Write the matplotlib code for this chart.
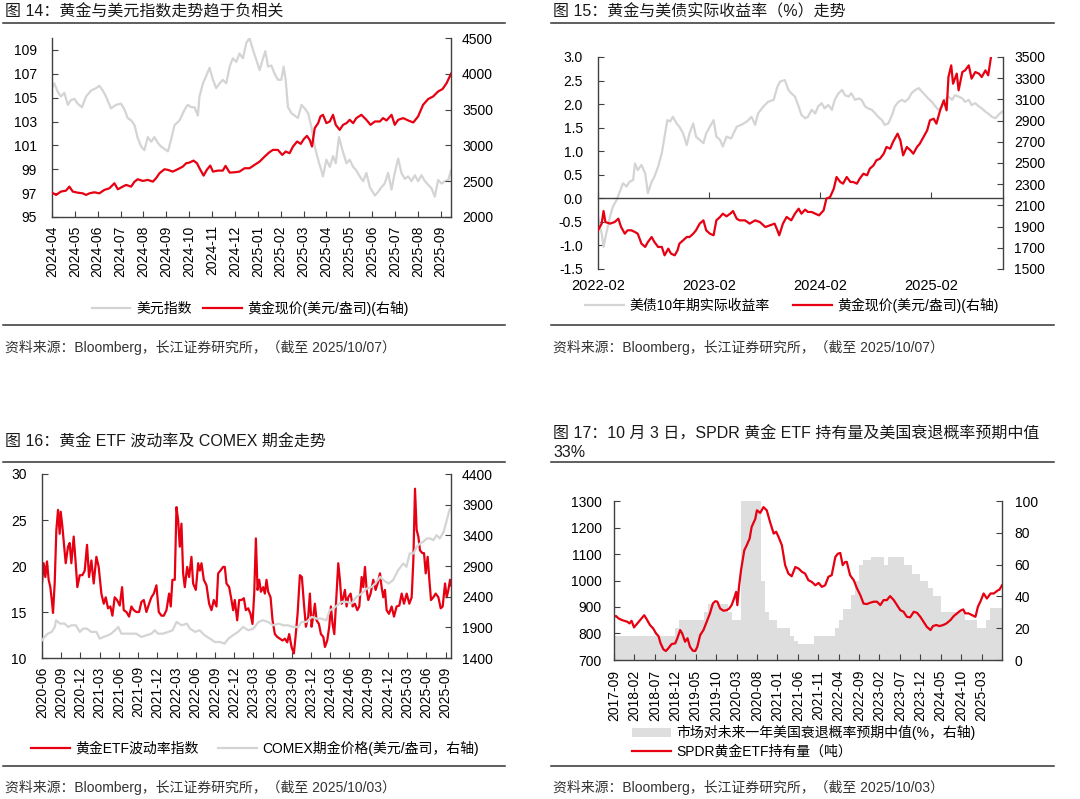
import matplotlib.pyplot as plt
import numpy as np
import pandas as pd
from matplotlib.lines import Line2D
from matplotlib.patches import Patch
from matplotlib.ticker import FormatStrFormatter

plt.rcParams["font.family"] = ["Liberation Sans", "Noto Sans CJK SC"]
plt.rcParams["axes.unicode_minus"] = False

W, H = 1080, 799
RED = "#e60012"
GREY = "#d4d4d4"
AREA = "#dedede"
AXIS = "#404040"

# ---------------- fig 14: dollar index vs gold (months since 2024-04) ----------------
dxy_t = [0.00, 0.10, 0.25, 0.39, 0.54, 0.69, 0.83, 0.98, 1.12, 1.31,
         1.49, 1.71, 1.93, 2.07, 2.22, 2.36, 2.58, 2.80, 3.02, 3.17,
         3.31, 3.46, 3.61, 3.75, 3.90, 4.04, 4.19, 4.34, 4.48, 4.63,
         4.77, 4.92, 5.07, 5.21, 5.36, 5.58, 5.80, 5.94, 6.09, 6.23,
         6.38, 6.45, 6.60, 6.74, 6.89, 7.04, 7.18, 7.33, 7.47, 7.62,
         7.77, 7.91, 8.06, 8.20, 8.35, 8.50, 8.64, 8.79, 8.93, 9.08,
         9.23, 9.33, 9.45, 9.59, 9.74, 9.88, 10.03, 10.13, 10.22, 10.32,
         10.47, 10.61, 10.76, 10.91, 11.05, 11.20, 11.34, 11.49, 11.64, 11.78,
         11.85, 12.00, 12.15, 12.29, 12.41, 12.55, 12.70, 12.88, 13.02, 13.17,
         13.31, 13.46, 13.61, 13.75, 13.90, 14.12, 14.26, 14.41, 14.55, 14.70,
         14.85, 14.99, 15.14, 15.28, 15.43, 15.58, 15.72, 15.87, 16.01, 16.16,
         16.31, 16.45, 16.60, 16.74, 16.89, 17.04, 17.18, 17.33, 17.45]
dxy = [105.8, 106.2, 105.5, 105.1, 105.4, 104.4, 104.8, 104.9, 104.5, 104.2,
       105.1, 105.6, 105.8, 106.0, 105.6, 105.1, 104.1, 104.4, 104.5, 104.0,
       103.3, 103.1, 102.7, 101.6, 100.9, 100.6, 101.7, 101.3, 101.7, 101.2,
       100.9, 100.7, 100.5, 101.5, 102.7, 103.1, 104.0, 104.4, 104.2, 104.2,
       103.5, 105.1, 106.2, 106.8, 107.5, 106.5, 105.8, 106.2, 106.5, 106.2,
       107.6, 108.3, 108.0, 108.7, 108.3, 109.6, 110.0, 109.0, 108.2, 107.3,
       108.3, 108.9, 107.6, 107.7, 107.0, 106.5, 106.5, 107.6, 106.5, 104.2,
       103.7, 103.5, 103.3, 104.4, 104.1, 103.7, 102.6, 100.9, 99.8, 98.9,
       98.4, 99.8, 99.2, 100.1, 99.5, 101.7, 100.6, 99.5, 99.8, 99.2,
       98.9, 98.4, 98.0, 98.7, 97.5, 96.8, 97.1, 97.5, 97.8, 98.7,
       97.3, 98.7, 99.9, 98.7, 98.2, 98.4, 98.0, 98.5, 98.0, 98.5,
       98.0, 97.7, 97.4, 96.7, 98.1, 97.8, 98.0, 98.1, 98.9]
gold14_t = [0.00, 0.18, 0.39, 0.61, 0.76, 0.91, 1.12, 1.34, 1.49, 1.64,
            1.85, 2.07, 2.29, 2.51, 2.73, 2.88, 3.09, 3.24, 3.46, 3.61,
            3.75, 3.97, 4.19, 4.41, 4.55, 4.70, 4.92, 5.07, 5.28, 5.50,
            5.72, 5.87, 6.01, 6.19, 6.34, 6.45, 6.63, 6.77, 6.92, 7.04,
            7.26, 7.47, 7.59, 7.77, 7.99, 8.20, 8.42, 8.64, 8.86, 9.08,
            9.30, 9.49, 9.66, 9.88, 10.07, 10.22, 10.39, 10.54, 10.72, 10.88,
            11.01, 11.15, 11.27, 11.37, 11.49, 11.64, 11.74, 11.85, 12.00, 12.15,
            12.29, 12.41, 12.58, 12.73, 12.88, 13.02, 13.17, 13.31, 13.53, 13.75,
            13.93, 14.12, 14.34, 14.48, 14.63, 14.85, 14.99, 15.14, 15.36, 15.58,
            15.80, 16.01, 16.23, 16.45, 16.67, 16.89, 17.08, 17.26, 17.45]
gold14 = [2340, 2308, 2355, 2368, 2424, 2355, 2340, 2331, 2308, 2331,
          2345, 2331, 2378, 2401, 2471, 2387, 2424, 2448, 2424, 2494,
          2527, 2504, 2518, 2494, 2541, 2611, 2667, 2658, 2634, 2667,
          2704, 2751, 2760, 2788, 2751, 2681, 2578, 2658, 2718, 2634,
          2648, 2648, 2714, 2620, 2625, 2634, 2681, 2681, 2728, 2774,
          2844, 2900, 2937, 2937, 2867, 2914, 2891, 2984, 3054, 3021,
          3087, 3133, 3077, 2984, 3241, 3311, 3404, 3427, 3311, 3334,
          3427, 3287, 3217, 3287, 3311, 3357, 3311, 3381, 3427, 3357,
          3287, 3334, 3334, 3381, 3348, 3427, 3287, 3357, 3381, 3348,
          3320, 3404, 3567, 3647, 3684, 3754, 3787, 3871, 4000]
p14_labels = pd.period_range("2024-04", "2025-09", freq="M").strftime("%Y-%m")

# ---------------- fig 15: real yield vs gold (months since 2022-02) ----------------
ry_t = [0.0, 0.2, 0.4, 0.6, 0.9, 1.3, 1.6, 2.0, 2.3, 2.7,
        3.1, 3.4, 3.8, 4.0, 4.3, 4.7, 5.1, 5.4, 5.8, 6.1,
        6.5, 6.9, 7.2, 7.5, 7.8, 8.1, 8.5, 8.8, 9.2, 9.6,
        9.9, 10.3, 10.6, 11.0, 11.4, 11.7, 12.1, 12.5, 12.8, 13.2,
        13.5, 13.9, 14.4, 15.0, 15.5, 16.1, 16.6, 17.0, 17.3, 17.9,
        18.4, 19.0, 19.4, 19.7, 20.2, 20.6, 20.9, 21.3, 21.7, 22.0,
        22.4, 22.7, 23.1, 23.5, 23.8, 24.2, 24.5, 24.9, 25.3, 25.6,
        26.0, 26.4, 26.7, 27.1, 27.4, 27.8, 28.2, 28.5, 28.9, 29.2,
        29.6, 30.0, 30.3, 30.7, 31.0, 31.4, 31.8, 32.1, 32.5, 32.9,
        33.2, 33.6, 33.9, 34.3, 34.7, 35.0, 35.4, 35.7, 36.1, 36.5,
        36.8, 37.2, 37.5, 37.9, 38.3, 38.6, 39.0, 39.4, 39.7, 40.1,
        40.4, 40.8, 41.2, 41.5, 41.9, 42.2, 42.6, 43.0, 43.3, 43.7]
real_yield = [-0.39, -0.60, -0.74, -1.03, -0.74, -0.39, -0.18, -0.04, 0.11, 0.32,
              0.25, 0.35, 0.39, 0.74, 0.60, 0.71, 0.53, 0.11, 0.35, 0.46,
              0.67, 0.96, 1.31, 1.66, 1.63, 1.73, 1.59, 1.52, 1.38, 1.13,
              1.38, 1.59, 1.31, 1.24, 1.17, 1.38, 1.52, 1.66, 1.31, 1.24,
              1.10, 1.31, 1.27, 1.52, 1.56, 1.63, 1.73, 1.56, 1.80, 1.95,
              2.05, 2.09, 2.37, 2.48, 2.51, 2.30, 2.23, 2.16, 1.95, 1.77,
              1.70, 1.73, 1.88, 1.80, 1.95, 2.02, 1.91, 1.98, 1.88, 2.09,
              2.23, 2.30, 2.19, 2.16, 2.23, 2.09, 2.12, 2.09, 1.95, 1.91,
              1.88, 1.80, 1.73, 1.66, 1.56, 1.59, 1.77, 1.95, 2.05, 2.09,
              2.05, 2.12, 2.23, 2.30, 2.34, 2.27, 2.19, 2.12, 2.05, 1.95,
              1.88, 1.95, 2.09, 2.16, 2.09, 2.19, 2.16, 2.12, 2.05, 2.09,
              1.98, 2.02, 1.95, 1.91, 1.84, 1.80, 1.73, 1.70, 1.77, 1.84]
gold15_t = [0.0, 0.4, 0.6, 0.8, 1.3, 1.8, 2.2, 2.5, 2.9, 3.2,
            3.6, 4.0, 4.3, 4.7, 5.1, 5.4, 5.8, 6.1, 6.5, 6.9,
            7.2, 7.6, 7.9, 8.3, 8.6, 8.8, 9.2, 9.6, 9.9, 10.3,
            10.6, 11.0, 11.4, 11.7, 12.1, 12.5, 12.8, 13.2, 13.5, 13.9,
            14.3, 14.6, 15.0, 15.3, 15.9, 16.4, 17.0, 17.5, 18.1, 18.6,
            19.1, 19.4, 19.6, 20.0, 20.4, 20.9, 21.3, 21.7, 22.0, 22.4,
            22.7, 23.1, 23.5, 23.9, 24.4, 24.7, 25.1, 25.5, 25.8, 26.2,
            26.5, 26.9, 27.3, 27.6, 28.0, 28.3, 28.7, 29.1, 29.4, 29.8,
            30.1, 30.5, 30.9, 31.2, 31.6, 31.9, 32.4, 32.7, 33.0, 33.4,
            33.8, 34.1, 34.5, 34.8, 35.2, 35.6, 35.9, 36.3, 36.6, 37.0,
            37.4, 37.7, 37.9, 38.2, 38.4, 38.8, 39.0, 39.4, 39.7, 40.1,
            40.4, 40.8, 41.2, 41.5, 41.9, 42.2, 42.5]
gold15 = [1865, 1928, 2047, 1943, 1928, 1943, 1975, 1896, 1833, 1865,
          1865, 1849, 1833, 1739, 1708, 1755, 1802, 1755, 1708, 1708,
          1629, 1692, 1645, 1629, 1676, 1739, 1770, 1802, 1802, 1833,
          1865, 1928, 1959, 1865, 1833, 1818, 1959, 1991, 2022, 1997,
          2022, 2047, 1975, 1959, 1959, 1928, 1959, 1943, 1896, 1912,
          1928, 1865, 1818, 1928, 1991, 1959, 2022, 2069, 2022, 2060,
          2038, 2038, 2022, 2006, 2053, 2164, 2179, 2258, 2368, 2321,
          2305, 2368, 2321, 2321, 2305, 2352, 2399, 2384, 2447, 2478,
          2525, 2541, 2588, 2651, 2635, 2698, 2777, 2714, 2572, 2651,
          2619, 2588, 2651, 2682, 2745, 2808, 2903, 2918, 2871, 2997,
          3091, 2997, 3311, 3421, 3248, 3343, 3186, 3358, 3374, 3421,
          3296, 3358, 3343, 3311, 3374, 3327, 3500]
p15_ticks = [0, 12, 24, 36]
p15_labels = ["2022-02", "2023-02", "2024-02", "2025-02"]

# ---------------- fig 16: gold ETF volatility vs COMEX (months since 2020-06) ----------------
vol_t = [0.00, 0.26, 0.52, 0.78, 1.04, 1.30, 1.56, 1.72, 1.98, 2.24,
         2.50, 2.76, 2.92, 3.18, 3.44, 3.70, 4.06, 4.32, 4.58, 4.95,
         5.26, 5.52, 5.89, 6.30, 6.67, 7.03, 7.34, 7.71, 8.07, 8.49,
         8.85, 9.27, 9.64, 9.95, 10.31, 10.68, 10.99, 11.35, 11.72, 12.14,
         12.50, 12.76, 13.18, 13.59, 13.96, 14.32, 14.74, 15.16, 15.52, 15.89,
         16.30, 16.72, 17.08, 17.45, 17.86, 18.23, 18.65, 19.01, 19.43, 19.84,
         20.10, 20.36, 20.73, 20.99, 21.25, 21.51, 21.77, 22.03, 22.29, 22.66,
         22.97, 23.33, 23.59, 24.01, 24.38, 24.64, 24.90, 25.26, 25.68, 26.09,
         26.46, 26.82, 27.24, 27.50, 27.86, 28.28, 28.54, 28.80, 29.22, 29.58,
         29.84, 30.10, 30.47, 30.78, 31.15, 31.51, 31.82, 32.19, 32.55, 32.86,
         33.13, 33.39, 33.65, 33.91, 34.17, 34.53, 34.79, 35.05, 35.31, 35.68,
         35.99, 36.35, 36.72, 37.14, 37.55, 37.92, 38.28, 38.59, 38.96, 39.32,
         39.58, 39.90, 40.26, 40.57, 40.89, 41.20, 41.56, 41.82, 42.08, 42.34,
         42.60, 42.86, 43.23, 43.54, 43.91, 44.17, 44.53, 44.84, 45.10, 45.36,
         45.63, 45.89, 46.25, 46.51, 46.77, 47.03, 47.29, 47.55, 47.81, 48.18,
         48.49, 48.85, 49.22, 49.53, 49.90, 50.16, 50.42, 50.68, 50.94, 51.30,
         51.72, 52.08, 52.40, 52.76, 53.02, 53.28, 53.54, 53.80, 54.17, 54.58,
         54.95, 55.36, 55.78, 56.15, 56.51, 56.93, 57.34, 57.71, 57.97, 58.23,
         58.49, 58.75, 59.01, 59.38, 59.64, 59.90, 60.21, 60.47, 60.73, 61.09,
         61.46, 61.88, 62.24, 62.55, 62.92, 63.18, 63.44, 63.70, 63.85]
etf_vol = [18.1, 20.3, 18.8, 20.5, 18.5, 17.7, 16.1, 14.9, 18.1, 23.9,
           26.1, 23.5, 25.9, 24.3, 22.3, 20.3, 22.1, 22.5, 20.3, 23.2,
           20.3, 17.7, 19.0, 19.0, 19.5, 22.3, 18.8, 20.6, 18.1, 21.0,
           19.9, 17.0, 15.9, 16.6, 15.4, 15.6, 14.6, 16.6, 16.3, 15.7,
           17.7, 15.2, 15.0, 14.5, 15.6, 15.2, 15.0, 15.0, 16.1, 16.3,
           15.0, 15.9, 16.6, 17.0, 17.9, 15.0, 14.6, 14.6, 15.2, 17.0,
           15.6, 18.5, 18.5, 26.4, 25.0, 22.1, 24.6, 19.2, 17.7, 19.9,
           18.8, 21.0, 18.1, 17.4, 20.3, 19.5, 20.3, 18.5, 17.9, 15.9,
           15.2, 16.3, 15.6, 19.2, 19.5, 19.9, 19.9, 18.1, 17.7, 16.3,
           15.2, 16.3, 14.1, 16.3, 16.3, 16.5, 15.2, 15.4, 14.8, 13.7,
           17.0, 23.0, 17.4, 18.5, 17.2, 17.7, 17.0, 18.5, 17.2, 16.6,
           14.1, 12.6, 12.3, 12.1, 11.9, 12.1, 11.7, 12.6, 11.2, 10.5,
           12.3, 14.8, 19.0, 18.8, 15.9, 13.4, 14.5, 17.0, 13.4, 14.5,
           15.9, 14.1, 13.7, 12.6, 12.3, 11.2, 11.9, 13.4, 15.6, 13.7,
           12.6, 15.9, 20.3, 18.5, 15.9, 16.6, 17.4, 15.6, 16.6, 17.0,
           15.6, 15.9, 15.2, 15.6, 18.8, 17.7, 19.9, 17.4, 16.3, 17.0,
           18.5, 17.4, 18.1, 19.2, 17.7, 16.6, 17.4, 15.2, 14.8, 15.6,
           14.5, 15.6, 15.7, 17.0, 15.9, 17.0, 15.9, 16.6, 20.6, 28.4,
           23.9, 23.2, 21.7, 21.4, 21.4, 19.2, 21.0, 18.5, 16.3, 16.6,
           17.0, 16.6, 15.4, 15.6, 18.1, 16.6, 17.4, 18.5, 17.9]
comex_t = [0.0, 0.4, 0.9, 1.5, 2.0, 2.2, 2.8, 3.5, 4.1, 4.6,
           5.3, 5.9, 6.4, 7.0, 7.7, 8.5, 9.0, 9.6, 10.3, 10.8,
           11.4, 11.9, 12.4, 13.2, 14.0, 14.7, 15.5, 16.3, 17.1, 17.6,
           18.1, 18.9, 19.7, 20.4, 21.0, 21.8, 22.6, 23.1, 23.9, 24.6,
           25.4, 26.2, 27.0, 27.8, 28.5, 29.1, 29.8, 30.6, 31.4, 32.2,
           33.0, 33.8, 34.5, 35.3, 36.1, 36.9, 37.7, 38.4, 39.2, 40.0,
           40.5, 41.3, 42.1, 42.9, 43.6, 44.4, 44.9, 45.5, 46.1, 46.8,
           47.6, 48.3, 49.1, 49.9, 50.7, 51.5, 52.0, 52.8, 53.3, 54.1,
           54.8, 55.6, 56.4, 56.9, 57.4, 58.0, 58.5, 59.0, 59.5, 60.1,
           60.6, 61.1, 61.6, 62.1, 62.7, 63.2, 63.6, 63.9]
comex = [1689, 1743, 1797, 1825, 1906, 2015, 1961, 1961, 1906, 1933,
         1933, 1825, 1879, 1879, 1825, 1825, 1716, 1743, 1770, 1797,
         1852, 1906, 1797, 1797, 1797, 1797, 1743, 1770, 1797, 1852,
         1797, 1797, 1825, 1852, 1988, 1933, 1961, 1879, 1825, 1852,
         1770, 1716, 1661, 1661, 1634, 1716, 1770, 1825, 1906, 1852,
         1879, 1988, 2015, 1988, 1933, 1961, 1933, 1933, 1906, 1906,
         1988, 1988, 2070, 2042, 2042, 2015, 2178, 2206, 2260, 2315,
         2315, 2287, 2396, 2451, 2532, 2560, 2614, 2723, 2669, 2614,
         2669, 2832, 2941, 2887, 3104, 3104, 3213, 3267, 3294, 3349,
         3349, 3322, 3403, 3349, 3458, 3648, 3811, 3855]
p16_labels = pd.period_range("2020-06", "2025-09", freq="M").strftime("%Y-%m")[::3]

# ---------------- fig 17: SPDR holdings vs recession probability (months since 2017-09) ----------------
spdr_t = [0.0, 0.5, 1.1, 1.9, 2.7, 3.3, 3.8, 4.3, 4.9, 5.6,
          6.4, 7.4, 8.0, 8.8, 9.6, 10.3, 10.9, 11.4, 12.1, 12.7,
          13.3, 14.1, 15.0, 15.5, 16.2, 16.7, 17.4, 18.0, 18.6, 19.3,
          19.9, 20.4, 21.1, 21.9, 22.7, 23.5, 24.2, 24.8, 25.3, 26.0,
          26.8, 27.6, 28.2, 28.8, 29.4, 29.9, 30.2, 30.6, 31.1, 31.9,
          32.5, 33.2, 33.7, 34.6, 35.0, 35.8, 36.6, 37.4, 38.2, 39.1,
          39.7, 40.3, 41.1, 41.9, 42.7, 43.5, 44.4, 45.2, 46.0, 46.8,
          47.6, 48.4, 49.3, 50.1, 50.9, 51.7, 52.5, 53.3, 54.2, 54.8,
          55.4, 56.0, 56.6, 57.0, 57.8, 58.7, 59.5, 60.3, 61.1, 61.9,
          62.7, 63.6, 64.4, 65.2, 66.0, 66.8, 67.6, 68.5, 69.3, 70.1,
          70.9, 71.7, 72.5, 73.4, 74.2, 75.0, 75.8, 76.6, 77.5, 78.1,
          78.9, 79.7, 80.6, 81.4, 82.4, 83.2, 84.0, 84.8, 85.5, 86.0,
          86.8, 87.7, 88.5, 89.1, 89.7, 90.5, 91.3, 92.2, 93.0, 93.8,
          94.4, 95.0]
spdr = [863, 866, 857, 851, 847, 844, 838, 848, 823, 836,
        851, 869, 854, 832, 819, 800, 790, 763, 740, 734,
        744, 760, 763, 782, 813, 800, 769, 782, 750, 735,
        734, 750, 794, 813, 844, 876, 913, 922, 920, 894,
        886, 888, 894, 907, 932, 957, 907, 976, 1039, 1114,
        1133, 1158, 1202, 1233, 1265, 1255, 1277, 1265, 1221, 1177,
        1184, 1164, 1133, 1058, 1026, 1016, 1051, 1045, 1033, 1026,
        1001, 995, 982, 991, 976, 982, 1014, 1020, 1089, 1101,
        1104, 1058, 1070, 1070, 1020, 1001, 970, 945, 913, 911,
        916, 920, 920, 907, 926, 926, 941, 926, 907, 888,
        882, 863, 861, 882, 878, 863, 844, 825, 813, 828,
        832, 828, 832, 838, 851, 866, 876, 886, 891, 876,
        876, 869, 863, 901, 920, 951, 932, 951, 951, 961,
        966, 982]
rec_t = [0, 15, 16, 22, 23, 28, 29, 31, 36, 37, 38, 40, 43, 44, 45, 49, 54, 55, 56,
         58, 59, 60, 61, 63, 66, 67, 71, 73, 75, 77, 78, 80, 86, 89, 91, 92, 95]
rec_prob = [15, 20, 25, 30, 35, 30, 25, 100, 50, 30, 25, 20, 15, 12, 10, 15, 20, 25, 32,
            41, 50, 60, 63, 65, 60, 65, 60, 54, 50, 45, 40, 30, 25, 20, 25, 33, 33]
p17_labels = pd.period_range("2017-09", "2025-03", freq="M").strftime("%Y-%m")[::5]


def fx(px):
    return px / W


def fy(py):
    return 1 - py / H


def make_axes(left, top, right, bottom):
    ax = fig.add_axes([fx(left), fy(bottom), fx(right) - fx(left), fy(top) - fy(bottom)])
    ax2 = ax.twinx()
    for a in (ax, ax2):
        a.spines["top"].set_visible(False)
        for s in ("left", "right", "bottom"):
            a.spines[s].set_color(AXIS)
            a.spines[s].set_linewidth(1.0)
        a.tick_params(direction="in", length=4, width=0.8, color=AXIS,
                      labelsize=10, labelcolor="black")
    ax.spines["right"].set_visible(False)
    ax2.spines["left"].set_visible(False)
    ax2.spines["bottom"].set_visible(False)
    return ax, ax2


def header(x0, x1, y_text, y_rule, title, **kw):
    fig.text(fx(x0 + 2), fy(y_text), title, ha="left", va="center", fontsize=11.5,
             color="#1a1a1a", **kw)
    fig.add_artist(Line2D([fx(x0), fx(x1)], [fy(y_rule)] * 2, color="#333333", lw=1.1))


def footer(x0, x1, y_rule, y_text, source):
    fig.add_artist(Line2D([fx(x0), fx(x1)], [fy(y_rule)] * 2, color="#333333", lw=1.1))
    fig.text(fx(x0 + 2), fy(y_text), source, ha="left", va="center", fontsize=10,
             color="#333333")


fig = plt.figure(figsize=(10.8, 7.99), dpi=100)

# ---- fig 14 ----
header(3, 505, 12, 23, "图 14：黄金与美元指数走势趋于负相关")
ax, ax2 = make_axes(52, 38, 451, 217)
ax.plot(dxy_t, dxy, color=GREY, lw=1.6, label="美元指数")
ax2.plot(gold14_t, gold14, color=RED, lw=1.6, label="黄金现价(美元/盎司)(右轴)")
ax.set_ylim(95, 110)
ax.set_yticks(np.arange(95, 110, 2))
ax2.set_ylim(2000, 4500)
ax2.set_yticks(np.arange(2000, 4501, 500))
ax.set_xlim(0, 17.45)
ax.set_xticks(np.arange(len(p14_labels)))
ax.set_xticklabels(p14_labels, rotation=90)
ax.tick_params(axis="x", pad=6)
ax.tick_params(axis="y", pad=11)
ax2.tick_params(axis="y", pad=8)
h1, l1 = ax.get_legend_handles_labels()
h2, l2 = ax2.get_legend_handles_labels()
fig.legend(h1 + h2, l1 + l2, loc="center", bbox_to_anchor=(fx(250), fy(308)), ncol=2,
           frameon=False, fontsize=10, handlelength=2.8, handletextpad=0.4,
           columnspacing=0.8, borderaxespad=0)
footer(3, 505, 325, 347, "资料来源：Bloomberg，长江证券研究所，（截至 2025/10/07）")

# ---- fig 15 ----
header(551, 1054, 12, 23, "图 15：黄金与美债实际收益率（%）走势")
ax, ax2 = make_axes(598, 57, 1003, 269)
ax.plot(ry_t, real_yield, color=GREY, lw=1.6, label="美债10年期实际收益率")
ax2.plot(gold15_t, gold15, color=RED, lw=1.6, label="黄金现价(美元/盎司)(右轴)")
ax.set_ylim(-1.5, 3.0)
ax.set_yticks(np.arange(-1.5, 3.01, 0.5))
ax.yaxis.set_major_formatter(FormatStrFormatter("%.1f"))
ax2.set_ylim(1500, 3500)
ax2.set_yticks(np.arange(1500, 3501, 200))
ax.spines["bottom"].set_position(("data", 0))
ax.set_xlim(0, 43.8)
ax.set_xticks(p15_ticks)
ax.set_xticklabels(p15_labels)
ax.tick_params(axis="x", pad=58, labelsize=10.5)
ax.tick_params(axis="y", pad=11)
ax2.tick_params(axis="y", pad=8)
h1, l1 = ax.get_legend_handles_labels()
h2, l2 = ax2.get_legend_handles_labels()
fig.legend(h1 + h2, l1 + l2, loc="center", bbox_to_anchor=(fx(792), fy(305)), ncol=2,
           frameon=False, fontsize=10, handlelength=2.8, handletextpad=0.4,
           columnspacing=1.7, borderaxespad=0)
footer(551, 1054, 325, 347, "资料来源：Bloomberg，长江证券研究所，（截至 2025/10/07）")

# ---- fig 16 ----
header(3, 505, 442, 462, "图 16：黄金 ETF 波动率及 COMEX 期金走势")
ax, ax2 = make_axes(42, 474, 451, 658)
ax.plot(vol_t, etf_vol, color=RED, lw=1.6, label="黄金ETF波动率指数")
ax2.plot(comex_t, comex, color=GREY, lw=1.6, label="COMEX期金价格(美元/盎司，右轴)")
ax.set_ylim(10, 30)
ax.set_yticks(np.arange(10, 31, 5))
ax2.set_ylim(1400, 4400)
ax2.set_yticks(np.arange(1400, 4401, 500))
ax.set_xlim(0, 63.85)
ax.set_xticks(np.arange(len(p16_labels)) * 3)
ax.set_xticklabels(p16_labels, rotation=90)
ax.tick_params(axis="x", pad=6)
ax.tick_params(axis="y", pad=11)
ax2.tick_params(axis="y", pad=8)
h1, l1 = ax.get_legend_handles_labels()
h2, l2 = ax2.get_legend_handles_labels()
fig.legend(h1 + h2, l1 + l2, loc="center", bbox_to_anchor=(fx(255), fy(748)), ncol=2,
           frameon=False, fontsize=10, handlelength=2.8, handletextpad=0.4,
           columnspacing=1.4, borderaxespad=0)
footer(3, 505, 766, 787, "资料来源：Bloomberg，长江证券研究所，（截至 2025/10/03）")

# ---- fig 17 ----
header(551, 1054, 443, 462,
       "图 17：10 月 3 日，SPDR 黄金 ETF 持有量及美国衰退概率预期中值\n33%",
       linespacing=1.3)
ax, ax2 = make_axes(614, 501, 1002, 660)
ax2.fill_between(rec_t, rec_prob, step="post", color=AREA, lw=0)
ax.plot(spdr_t, spdr, color=RED, lw=1.6)
ax.set_zorder(ax2.get_zorder() + 1)
ax.patch.set_visible(False)
ax.set_ylim(700, 1300)
ax.set_yticks(np.arange(700, 1301, 100))
ax2.set_ylim(0, 100)
ax2.set_yticks(np.arange(0, 101, 20))
ax.set_xlim(0, 95)
ax.set_xticks(np.arange(len(p17_labels)) * 5)
ax.set_xticklabels(p17_labels, rotation=90)
ax.tick_params(axis="x", pad=7)
ax.tick_params(axis="y", pad=9)
ax2.tick_params(axis="y", pad=9)
handles = [Patch(facecolor=AREA, edgecolor="none"), Line2D([], [], color=RED, lw=1.6)]
labels = ["市场对未来一年美国衰退概率预期中值(%，右轴)", "SPDR黄金ETF持有量（吨）"]
fig.legend(handles, labels, loc="center left", bbox_to_anchor=(fx(632), fy(742)),
           frameon=False, fontsize=10, handlelength=2.8, handletextpad=0.4,
           labelspacing=0.3, borderaxespad=0, borderpad=0)
footer(551, 1054, 766, 787, "资料来源：Bloomberg，长江证券研究所，（截至 2025/10/03）")

fig.savefig("out.png", dpi=100)
